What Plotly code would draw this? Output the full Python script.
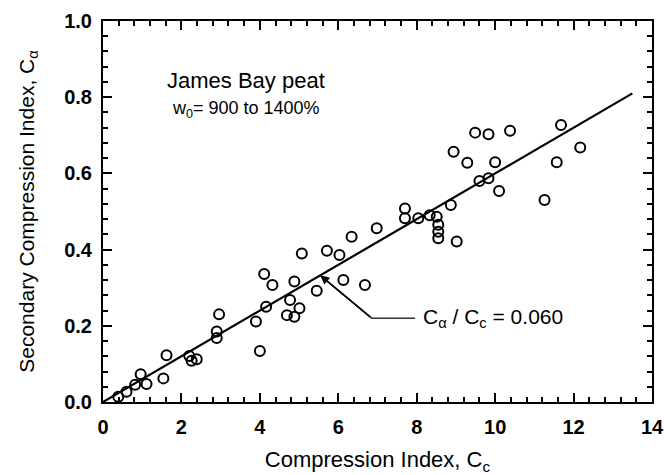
import plotly.graph_objects as go

# Data
cc = [0.39, 0.60, 0.82, 0.96, 1.11, 1.54, 1.62, 2.20, 2.26, 2.39, 2.90, 2.90, 2.96,
      3.90, 4.00, 4.11, 4.16, 4.32, 4.69, 4.77, 4.88, 4.88, 5.01, 5.07, 5.45, 5.71,
      6.03, 6.13, 6.34, 6.68, 6.98, 7.70, 7.70, 8.04, 8.33, 8.51, 8.55, 8.55, 8.55,
      8.87, 8.94, 9.02, 9.29, 9.49, 9.60, 9.83, 9.83, 10.00, 10.10, 10.38, 11.26,
      11.57, 11.68, 12.17]
ca = [0.014, 0.027, 0.045, 0.073, 0.047, 0.062, 0.123, 0.121, 0.108, 0.112, 0.185, 0.168, 0.230,
      0.211, 0.134, 0.336, 0.250, 0.307, 0.228, 0.268, 0.316, 0.224, 0.246, 0.390, 0.292, 0.397,
      0.386, 0.320, 0.434, 0.307, 0.456, 0.508, 0.482, 0.482, 0.490, 0.486, 0.465, 0.447, 0.430,
      0.517, 0.657, 0.421, 0.628, 0.707, 0.580, 0.703, 0.587, 0.629, 0.554, 0.712, 0.530,
      0.629, 0.727, 0.668]

ratio = 0.060
fit_x = [0.0, 13.5]
fit_y = [ratio * v for v in fit_x]

leader_x = [5.54, 6.85, 7.96]
leader_y = [ratio * 5.54, 0.22, 0.22]

x_range = [0, 14]
y_range = [0, 1.0]
x_major, x_minor = 2, 0.4
y_major, y_minor = 0.2, 0.04

W, H = 664, 475
M = dict(l=103, r=12, t=21, b=73)
FONT = "Liberation Sans, Arial, sans-serif"

fig = go.Figure()

fig.add_trace(go.Scatter(x=fit_x, y=fit_y, mode="lines",
                         line=dict(color="black", width=2.2), hoverinfo="skip"))
fig.add_trace(go.Scatter(x=leader_x, y=leader_y, mode="lines",
                         line=dict(color="#333333", width=1.5), hoverinfo="skip"))
fig.add_trace(go.Scatter(x=cc, y=ca, mode="markers",
                         marker=dict(symbol="circle-open", size=10, color="black",
                                     line=dict(color="black", width=2))))

fig.add_annotation(x=leader_x[0], y=leader_y[0], ax=leader_x[1], ay=leader_y[1],
                   axref="x", ayref="y", xref="x", yref="y", text="",
                   showarrow=True, arrowhead=2, arrowsize=1.2, arrowwidth=1.5,
                   arrowcolor="black")

fig.add_annotation(x=8.12, y=0.22, xref="x", yref="y", xanchor="left", yanchor="middle",
                   text="C<sub>α</sub> / C<sub>c</sub> = 0.060", showarrow=False,
                   font=dict(family=FONT, size=21, color="black"))
fig.add_annotation(x=1.58, y=0.845, xref="x", yref="y", xanchor="left", yanchor="middle",
                   text="James Bay peat", showarrow=False,
                   font=dict(family=FONT, size=22, color="black"))
fig.add_annotation(x=1.72, y=0.768, xref="x", yref="y", xanchor="left", yanchor="middle",
                   text="w<sub>0</sub>= 900 to 1400%", showarrow=False,
                   font=dict(family=FONT, size=18, color="black"))

axis_common = dict(showline=True, linecolor="black", linewidth=2, mirror="allticks",
                   ticks="inside", ticklen=9, tickwidth=2, tickcolor="black",
                   showgrid=False, zeroline=False, tickmode="linear", tick0=0,
                   automargin=False, layer="above traces",
                   tickfont=dict(family=FONT, size=20, color="black", weight="bold"))

fig.update_xaxes(range=x_range, dtick=x_major, ticklabelstandoff=6,
                 minor=dict(dtick=x_minor, tick0=0, ticks="inside", ticklen=5,
                            tickwidth=1.5, tickcolor="black", showgrid=False),
                 title=dict(text="Compression Index, C<sub>c</sub>", standoff=16,
                            font=dict(family=FONT, size=22, color="black")),
                 **axis_common)
fig.update_yaxes(range=y_range, dtick=y_major, tickformat=".1f", ticklabelstandoff=5,
                 minor=dict(dtick=y_minor, tick0=0, ticks="inside", ticklen=5,
                            tickwidth=1.5, tickcolor="black", showgrid=False),
                 title=dict(text="Secondary Compression Index, C<sub>α</sub>", standoff=24,
                            font=dict(family=FONT, size=21, color="black")),
                 **axis_common)

fig.update_layout(width=W, height=H, showlegend=False, margin=M,
                  plot_bgcolor="white", paper_bgcolor="white")

fig.write_html("out.html")
